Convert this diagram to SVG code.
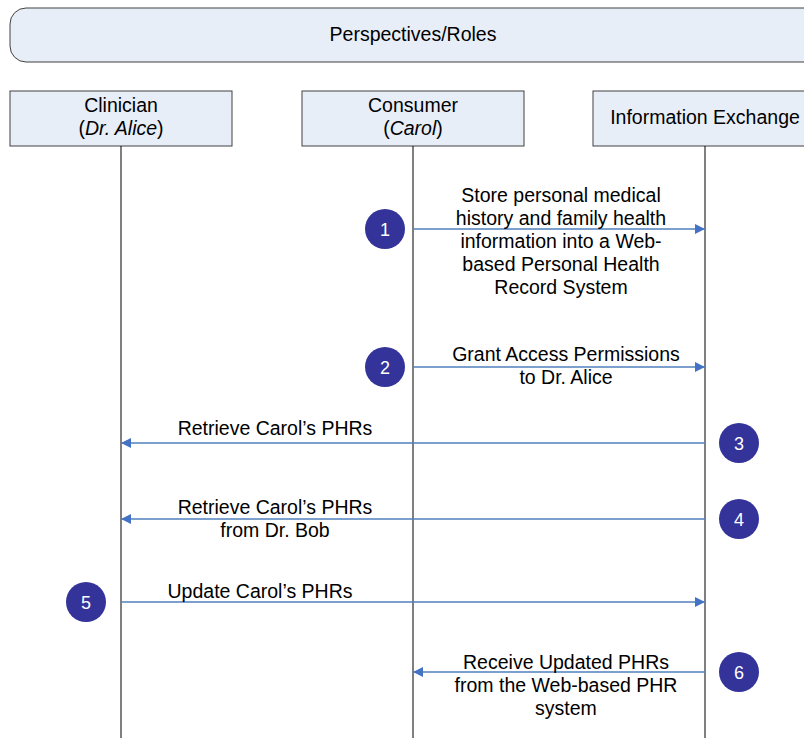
<svg xmlns="http://www.w3.org/2000/svg" width="804" height="738" viewBox="0 0 804 738">
<style>
text{font-family:"Liberation Sans",Arial,sans-serif;font-size:19.5px;fill:#000;text-anchor:middle}
.box{fill:#E8EEF8;stroke:#404040;stroke-width:1}
.life{stroke:#000;stroke-width:1}
.msg{stroke:#4F81BD;stroke-width:1.5;fill:none}
.num{fill:#333399}
.numt{fill:#fff;font-size:18px}
</style>
<defs>
<marker id="ah" viewBox="0 0 10 10" refX="10" refY="5" markerWidth="10" markerHeight="10" markerUnits="userSpaceOnUse" orient="auto">
<path d="M0,0 L10,5 L0,10 z" fill="#4472C4"/>
</marker>
</defs>
<rect width="804" height="738" fill="#fff"/>
<g id="header">
<rect class="box" x="10" y="8" width="820" height="54" rx="16" ry="16"/>
<text x="413" y="41">Perspectives/Roles</text>
</g>
<g id="clinician">
<rect class="box" x="10" y="91" width="222" height="55"/>
<text x="121" y="112">Clinician</text>
<text x="121" y="135">(<tspan font-style="italic">Dr. Alice</tspan>)</text>
</g>
<g id="consumer">
<rect class="box" x="302" y="91" width="222" height="55"/>
<text x="413" y="112">Consumer</text>
<text x="413" y="135">(<tspan font-style="italic">Carol</tspan>)</text>
</g>
<g id="exchange">
<rect class="box" x="593" y="91" width="240" height="55"/>
<text x="705" y="124">Information Exchange</text>
</g>
<g id="lifelines">
<line class="life" x1="121" y1="146" x2="121" y2="738"/>
<line class="life" x1="413" y1="146" x2="413" y2="738"/>
<line class="life" x1="705" y1="146" x2="705" y2="738"/>
</g>
<g id="connectors">
<line class="msg" x1="413" y1="229" x2="705" y2="229" marker-end="url(#ah)"/>
<line class="msg" x1="413" y1="367" x2="705" y2="367" marker-end="url(#ah)"/>
<line class="msg" x1="705" y1="443" x2="121" y2="443" marker-end="url(#ah)"/>
<line class="msg" x1="705" y1="519" x2="121" y2="519" marker-end="url(#ah)"/>
<line class="msg" x1="121" y1="602" x2="705" y2="602" marker-end="url(#ah)"/>
<line class="msg" x1="705" y1="672" x2="413" y2="672" marker-end="url(#ah)"/>
</g>
<g id="labels">
<text x="561" y="202">Store personal medical</text>
<text x="561" y="225">history and family health</text>
<text x="561" y="248">information into a Web-</text>
<text x="561" y="271">based Personal Health</text>
<text x="561" y="294">Record System</text>
<text x="566" y="361">Grant Access Permissions</text>
<text x="566" y="384">to Dr. Alice</text>
<text x="275" y="435">Retrieve Carol’s PHRs</text>
<text x="275" y="514">Retrieve Carol’s PHRs</text>
<text x="275" y="537">from Dr. Bob</text>
<text x="260" y="598">Update Carol’s PHRs</text>
<text x="566" y="669">Receive Updated PHRs</text>
<text x="566" y="692">from the Web-based PHR</text>
<text x="566" y="715">system</text>
</g>
<g id="step1"><circle class="num" cx="385" cy="229" r="20"/><text class="numt" x="385" y="236">1</text></g>
<g id="step2"><circle class="num" cx="385" cy="367" r="20"/><text class="numt" x="385" y="374">2</text></g>
<g id="step3"><circle class="num" cx="739" cy="443" r="20"/><text class="numt" x="739" y="450">3</text></g>
<g id="step4"><circle class="num" cx="739" cy="519" r="20"/><text class="numt" x="739" y="526">4</text></g>
<g id="step5"><circle class="num" cx="86" cy="602" r="20"/><text class="numt" x="86" y="609">5</text></g>
<g id="step6"><circle class="num" cx="739" cy="672" r="20"/><text class="numt" x="739" y="679">6</text></g>
</svg>
